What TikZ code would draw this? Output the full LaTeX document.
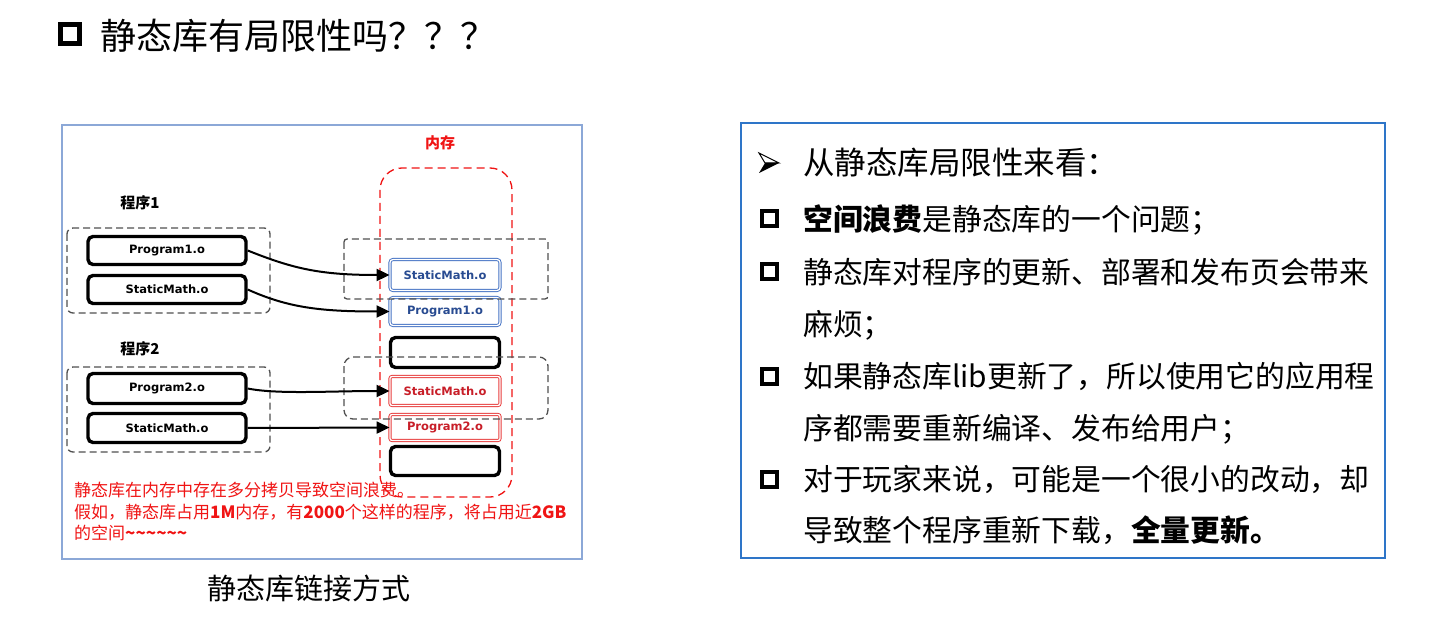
\documentclass[tikz,border=0pt]{standalone}
\usepackage{fontspec}
\newfontfamily\cjk{Noto Sans CJK SC}
\newfontfamily\lat{DejaVu Sans}
\usetikzlibrary{arrows.meta}
\definecolor{bluedraw}{RGB}{68,114,196}
\definecolor{bluetext}{RGB}{40,75,145}
\definecolor{reddraw}{RGB}{232,60,60}
\definecolor{redtext}{RGB}{200,30,40}
\definecolor{redline}{RGB}{240,20,20}
\definecolor{dgray}{RGB}{80,80,80}
\definecolor{lborder}{RGB}{140,168,215}
\definecolor{rborder}{RGB}{46,117,200}
\begin{document}
\begin{tikzpicture}[x=1pt,y=-1pt,
  objfont/.style={font=\lat\bfseries\fontsize{11.5}{13}\selectfont},
  sk/.style={draw=black, line width=3.4pt, rounded corners=5pt, inner sep=0pt, objfont},
  bluebox/.style={draw=bluedraw, double=white, double distance=1.3pt, line width=0.9pt, rounded corners=3pt, inner sep=0pt, text=bluetext, objfont},
  redbox/.style={draw=reddraw, double=white, double distance=1.3pt, line width=0.9pt, rounded corners=2pt, inner sep=0pt, text=redtext, objfont},
  gdash/.style={draw=dgray, line width=1.3pt, dash pattern=on 7pt off 4pt},
  rdash/.style={draw=redline, line width=1.3pt, dash pattern=on 8pt off 5pt, rounded corners=22pt},
  conn/.style={-{Triangle[length=13pt,width=12pt]}, line width=2pt},
  lbl/.style={inner sep=0pt, font=\cjk\bfseries\fontsize{15}{17}\selectfont},
  redtxt/.style={inner sep=0pt, anchor=base west, text=redline, font=\cjk\fontsize{17}{20}\selectfont},
  body/.style={inner sep=0pt, anchor=base west, font=\cjk\fontsize{29.8}{34}\selectfont},
  sq/.style={draw=black, line width=4pt, minimum size=15pt, inner sep=0pt},
]
\fill[white] (0,0) rectangle (1440,620);
\useasboundingbox (0,0) rectangle (1440,620);

% title
\node[sq, line width=5pt, minimum size=19pt] (tsq) at (69.5,34.5) {};
\node[inner sep=0pt, anchor=base west, font=\cjk\fontsize{36}{40}\selectfont] (title) at (100,50) {静态库有局限性吗？？？};

% left panel
\draw[lborder, line width=1.8pt] (62,125) rectangle (582,559);
\node[lbl, text=redline] (mem) at (440,143) {内存};
\draw[rdash] (380,168) rectangle (512,497);

\node[lbl] (g1) at (140,203) {程序1};
\node[lbl] (g2) at (140,349) {程序2};

\node[sk, minimum width=158pt, minimum height=28pt] (p1) at (167,250.5) {Program1.o};
\node[sk, minimum width=158pt, minimum height=28pt] (s1) at (167,289.5) {StaticMath.o};
\node[sk, minimum width=158pt, minimum height=30pt] (p2) at (167,388.5) {Program2.o};
\node[sk, minimum width=158pt, minimum height=29pt] (s2) at (167,428) {StaticMath.o};

\node[bluebox, minimum width=110pt, minimum height=31pt] (bs) at (445,275) {StaticMath.o};
\node[bluebox, minimum width=110pt, minimum height=28pt] (bp) at (445,311.5) {Program1.o};
\node[sk, minimum width=109pt, minimum height=30pt] (e1) at (445,352.5) {};
\node[redbox, minimum width=110pt, minimum height=29pt] (rs) at (445,391) {StaticMath.o};
\node[redbox, minimum width=110pt, minimum height=26pt] (rp) at (445,427.5) {Program2.o};
\node[sk, minimum width=109pt, minimum height=29pt] (e2) at (445,461) {};

\draw[gdash, rounded corners=6pt] (67,228) rectangle (270,313);
\draw[gdash, rounded corners=6pt] (67,367) rectangle (270,452);
\draw[gdash, rounded corners=3pt] (344,239) rectangle (548,299);
\draw[gdash, rounded corners=9pt] (344,357) rectangle (548,419);

\draw[conn] (p1.east) .. controls +(45,18) and +(-70,0) .. (bs.west);
\draw[conn] (s1.east) .. controls +(40,18) and +(-70,0) .. (bp.west);
\draw[conn] (p2.east) .. controls +(30,6) and +(-60,0) .. (rs.west);
\draw[conn] (s2.east) -- (rp.west);

\node[redtxt] (r1) at (74,496.5) {静态库在内存中存在多分拷贝导致空间浪费。};
\node[redtxt] (r2) at (74,518.5) {假如，静态库占用{\bfseries 1M}内存，有{\bfseries 2000}个这样的程序，将占用近{\bfseries 2GB}};
\node[redtxt] (r3) at (74,539.5) {的空间{\bfseries\textasciitilde\textasciitilde\textasciitilde\textasciitilde\textasciitilde\textasciitilde}};

\node[inner sep=0pt, anchor=base, font=\cjk\fontsize{29}{32}\selectfont] (cap) at (309,599) {静态库链接方式};

% right panel
\draw[rborder, line width=1.5pt] (741,123) rectangle (1385,558);
\draw[line width=1pt, fill=white, line join=miter] (759,153) -- (779,163) -- (765,163) -- cycle;
\fill[black] (765,163) -- (779,163) -- (759,173) -- cycle;
\node[body, font=\cjk\fontsize{31.5}{34}\selectfont] (h) at (803,175) {从静态库局限性来看：};

\node[sq] (b1) at (769.5,219) {};
\node[body] (t1) at (803,230.5) {{\bfseries 空间浪费}是静态库的一个问题；};
\node[sq] (b2) at (769.5,272) {};
\node[body] (t2) at (803,283.5) {静态库对程序的更新、部署和发布页会带来};
\node[body] (t2b) at (803,335.5) {麻烦；};
\node[sq] (b3) at (769.5,376) {};
\node[body] (t3) at (803,387.5) {如果静态库lib更新了，所以使用它的应用程};
\node[body] (t3b) at (803,439.5) {序都需要重新编译、发布给用户；};
\node[sq] (b4) at (769.5,479) {};
\node[body] (t4) at (803,490.5) {对于玩家来说，可能是一个很小的改动，却};
\node[body] (t4b) at (803,541.5) {导致整个程序重新下载，{\bfseries 全量更新。}};
\end{tikzpicture}
\end{document}
